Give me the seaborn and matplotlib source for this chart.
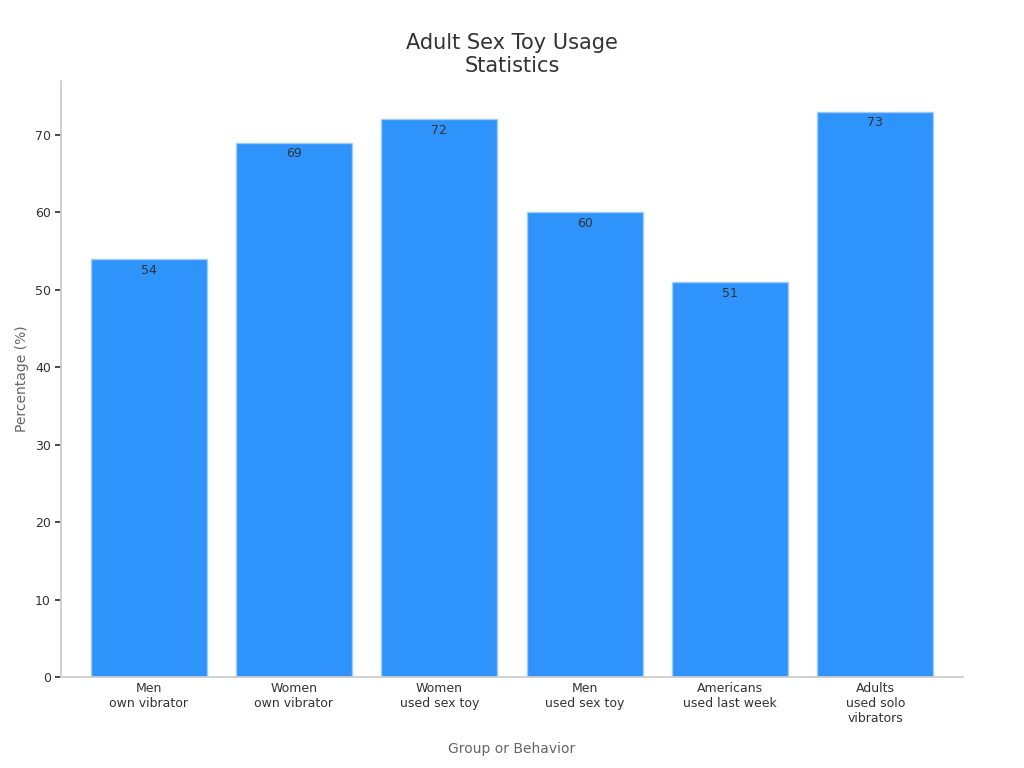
import matplotlib
matplotlib.use("Agg")
import matplotlib.pyplot as plt
import seaborn as sns
import pandas as pd

categories = ["Men\nown vibrator", "Women\nown vibrator", "Women\nused sex toy",
              "Men\nused sex toy", "Americans\nused last week", "Adults\nused solo\nvibrators"]
values = [54, 69, 72, 60, 51, 73]

sns.set_theme(style="white")
plt.rcParams["font.family"] = ["DejaVu Sans"]

df = pd.DataFrame({"cat": categories, "val": values})
fig, ax = plt.subplots(figsize=(10.24, 7.68), dpi=100)
sns.barplot(data=df, x="cat", y="val", color="#2e93fa", saturation=1,
            edgecolor="#9ecbf7", linewidth=1, width=0.8, ax=ax)
for p, v in zip(ax.patches, values):
    ax.text(p.get_x() + p.get_width() / 2, v - 0.6, f"{v}", ha="center", va="top",
            fontsize=9, color="#333333")

ax.set_title("Adult Sex Toy Usage\nStatistics", fontsize=15, color="#333333")
ax.set_xlabel("Group or Behavior", fontsize=10, color="#666666", labelpad=12)
ax.set_ylabel("Percentage (%)", fontsize=10, color="#666666")
ax.tick_params(axis="both", labelsize=9, colors="#333333", length=4, left=True)
ax.tick_params(axis="x", length=0)
for s in ["top", "right"]:
    ax.spines[s].set_visible(False)
for s in ["left", "bottom"]:
    ax.spines[s].set_color("#cccccc")
ax.set_ylim(0, 77)
ax.set_xlim(-0.6, 5.6)
plt.subplots_adjust(left=0.06, right=0.94, top=0.895, bottom=0.118)
fig.savefig("out.png", dpi=100)
